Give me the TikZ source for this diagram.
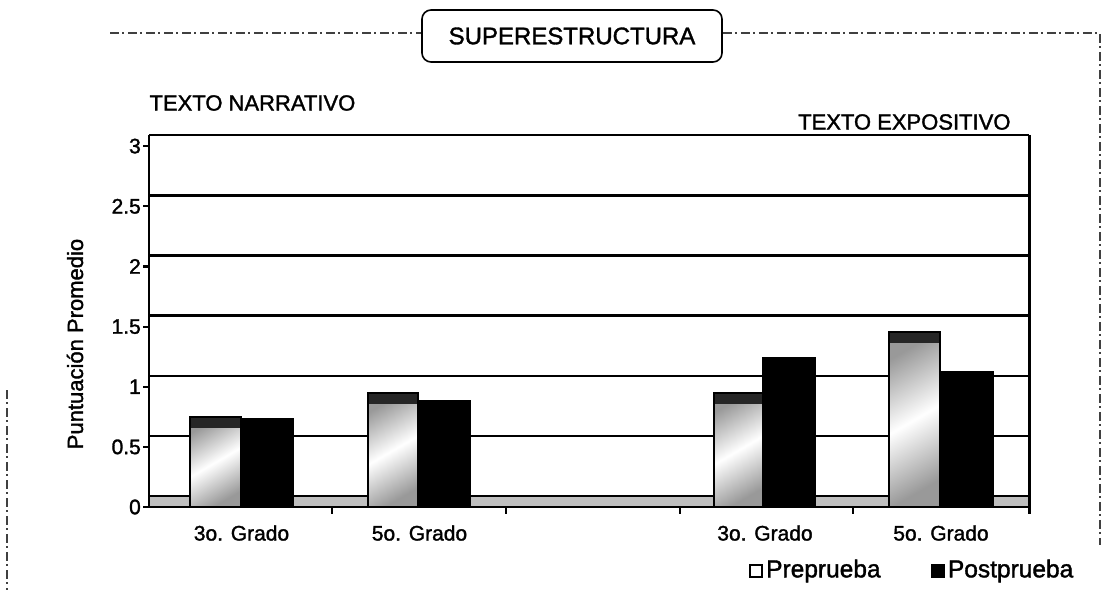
\documentclass[tikz,border=0pt]{standalone}
\usepackage{fontspec}
\setmainfont{Liberation Sans}[FakeBold=1.5]
\usetikzlibrary{positioning}

\begin{document}
\begin{tikzpicture}[x=1pt, y=-1pt,
			gridline/.style={line width=2.4pt},
			axisline/.style={line width=2.2pt},
			frameline/.style={line width=1.3pt, black!75, dash pattern=on 9pt off 3pt on 2pt off 4pt},
			prebar/.style={top color=black!40, bottom color=black!40, middle color=white,
				shading angle=30, draw=black, line width=2.6pt},
			postbar/.style={draw, line width=2pt, fill=black},
			prtop/.style={fill=black!85},
			ticklabel/.style={font=\fontsize{21}{24}\selectfont, anchor=east, inner sep=1pt},
			catlabel/.style={font=\fontsize{21}{24}\selectfont},
			heading/.style={font=\fontsize{22}{26}\selectfont},
			legendtext/.style={font=\fontsize{24.5}{28}\selectfont, anchor=west, inner sep=1pt},
			titlebox/.style={draw, line width=1.6pt, rounded corners=9pt, minimum width=300pt,
				minimum height=52pt, font=\fontsize{24}{28}\selectfont}]
			
			\useasboundingbox (0,0) rectangle (1105,607);
			
			% frame and title
			\node[titlebox] (title) at (572,36) {SUPERESTRUCTURA};
			\coordinate (frameL) at (110,33);
			\coordinate (frameR) at (1100,33);
			\coordinate (frameRB) at (1100,545);
			\coordinate (sideT) at (7,390);
			\coordinate (sideB) at (7,590);
			\draw[frameline] (frameL) -- (frameL -| title.west);
			\draw[frameline] (frameR -| title.east) -- (frameR) -- (frameRB);
			\draw[frameline] (sideT) -- (sideB);
			
			\node[heading, anchor=west] (narr) at (146,103) {TEXTO NARRATIVO};
			\node[heading, anchor=east] (expo) at (1014,122) {TEXTO EXPOSITIVO};
			
			% back wall and floor
			\draw[line width=1.4pt] (149,135) -- (1029,135);
			\draw[gridline] (149,195.3) -- (1029,195.3);
			\draw[gridline] (149,255.4) -- (1029,255.4);
			\draw[gridline] (149,315.6) -- (1029,315.6);
			\draw[gridline] (149,375.7) -- (1029,375.7);
			\draw[gridline] (149,435.9) -- (1029,435.9);
			\fill[black!25] (149,496) rectangle (1029,507);
			\draw[line width=2pt] (149,496) -- (1029,496);
			
			% narrativo
			\shadedraw[prebar] (190,507) rectangle (241,417);
			\fill[prtop] (191,418) rectangle (240,428);
			\draw[postbar] (241,507) rectangle (293,419);
			\shadedraw[prebar] (368,507) rectangle (418,393);
			\fill[prtop] (369,394) rectangle (417,404);
			\draw[postbar] (418,507) rectangle (470,401);
			
			% expositivo
			\shadedraw[prebar] (714,507) rectangle (763,393);
			\fill[prtop] (715,394) rectangle (762,404);
			\draw[postbar] (763,507) rectangle (815,358);
			\shadedraw[prebar] (889,507) rectangle (940,332);
			\fill[prtop] (890,333) rectangle (939,343);
			\draw[postbar] (940,507) rectangle (993,372);
			
			% axes
			\draw[axisline] (149,135) -- (149,507) -- (1029.5,507);
			\draw[axisline] (1029.5,135) -- (1029.5,514);
			\draw[axisline] (143,507) -- (149,507);
			\draw[axisline] (143,446.9) -- (149,446.9);
			\draw[axisline] (143,386.7) -- (149,386.7);
			\draw[axisline] (143,326.6) -- (149,326.6);
			\draw[axisline] (143,266.4) -- (149,266.4);
			\draw[axisline] (143,206.3) -- (149,206.3);
			\draw[axisline] (143,146.1) -- (149,146.1);
			\draw[axisline] (332,507) -- (332,514);
			\draw[axisline] (506,507) -- (506,514);
			\draw[axisline] (680,507) -- (680,514);
			\draw[axisline] (853,507) -- (853,514);
			
			\node[ticklabel] (t0) at (142,507) {0};
			\node[ticklabel] (t1) at (142,446.9) {0.5};
			\node[ticklabel] (t2) at (142,386.7) {1};
			\node[ticklabel] (t3) at (142,326.6) {1.5};
			\node[ticklabel] (t4) at (142,266.4) {2};
			\node[ticklabel] (t5) at (142,206.3) {2.5};
			\node[ticklabel] (t6) at (142,146.1) {3};
			\node[heading, rotate=90] (ytitle) at (75,344) {Puntuación Promedio};
			
			\node[catlabel] (n3) at (241.5,533) {3o. Grado};
			\node[catlabel] (n5) at (419.5,533) {5o. Grado};
			\node[catlabel] (e3) at (765,533) {3o. Grado};
			\node[catlabel] (e5) at (941,533) {5o. Grado};
			
			% legend
			\node[draw, line width=2pt, fill=white, minimum size=12pt, inner sep=0pt] (prekey) at (756,571) {};
			\node[legendtext, right=2pt of prekey] (pretext) {Preprueba};
			\node[draw, line width=1.5pt, fill=black, minimum size=12pt, inner sep=0pt] (postkey) at (938,571) {};
			\node[legendtext, right=2pt of postkey] (posttext) {Postprueba};
			\end{tikzpicture}
\end{document}
